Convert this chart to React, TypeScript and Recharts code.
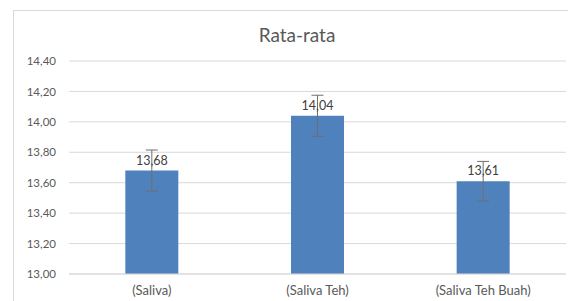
import { BarChart, Bar, XAxis, YAxis, CartesianGrid, ErrorBar, LabelList } from 'recharts';

const categories = ['(Saliva)', '(Saliva Teh)', '(Saliva Teh Buah)'];
const means = [13.68, 14.04, 13.61];
const errors = [0.135, 0.135, 0.13];
const yTicks = [13.0, 13.2, 13.4, 13.6, 13.8, 14.0, 14.2, 14.4];

const data = categories.map((name, i) => ({ name, value: means[i], err: errors[i] }));

const fmt = (v: number) => v.toFixed(2).replace('.', ',');
const FONT = 'Lato, "Open Sans", sans-serif';

export default function App() {
  return (
    <div style={{ position: 'absolute', left: 0, top: 0, width: 568, height: 301, background: '#fff', overflow: 'hidden', fontFamily: FONT }}>
      {/* chart frame */}
      <div style={{ position: 'absolute', left: 13, top: 10, width: 580, height: 320, border: '1px solid #d9d9d9', boxSizing: 'border-box' }} />
      <div style={{ position: 'absolute', left: 0, top: 23, width: 594, textAlign: 'center', fontSize: 19, lineHeight: '24px', color: '#595959' }}>
        Rata-rata
      </div>
      <div style={{ position: 'absolute', left: 0, top: 0 }}>
        <BarChart
          width={568}
          height={301}
          data={data}
          margin={{ top: 61, right: 2, left: 0, bottom: 7 }}
          barCategoryGap="34%"
        >
          <CartesianGrid vertical={false} stroke="#d9d9d9" />
          <XAxis
            dataKey="name"
            axisLine={{ stroke: '#d9d9d9' }}
            tickLine={false}
            tickSize={0}
            tickMargin={12}
            height={20}
            tick={{ fontSize: 13, fill: '#595959', fontFamily: FONT }}
          />
          <YAxis
            domain={[13, 14.4]}
            ticks={yTicks}
            interval={0}
            tickFormatter={fmt}
            axisLine={false}
            tickLine={false}
            tickSize={0}
            tickMargin={13}
            width={69}
            tick={{ fontSize: 11.5, fill: '#595959', fontFamily: FONT }}
          />
          <Bar dataKey="value" fill="#4f81bd" isAnimationActive={false}>
            <ErrorBar dataKey="err" width={6} stroke="#6f6f6f" strokeWidth={1} />
            <LabelList
              dataKey="value"
              position="top"
              offset={6}
              formatter={(v: any) => fmt(Number(v))}
              style={{ fontSize: 12.5, fill: '#404040', fontFamily: FONT }}
            />
          </Bar>
        </BarChart>
      </div>
    </div>
  );
}
